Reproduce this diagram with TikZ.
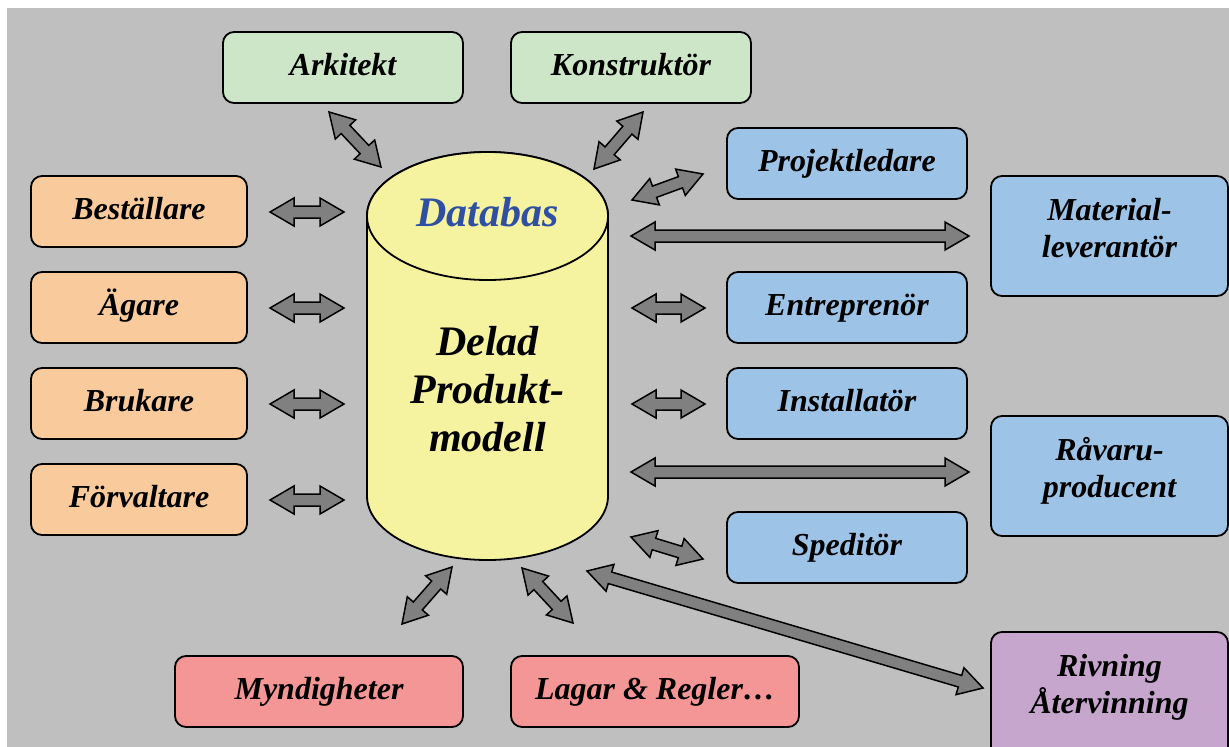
\documentclass[tikz,border=0pt]{standalone}
\usepackage{fontspec}
\setmainfont{Liberation Serif}
\usetikzlibrary{calc}
\definecolor{bggray}{RGB}{191,191,191}
\definecolor{boxgreen}{RGB}{204,230,199}
\definecolor{boxorange}{RGB}{249,203,156}
\definecolor{boxblue}{RGB}{157,195,230}
\definecolor{boxred}{RGB}{244,150,150}
\definecolor{boxpurple}{RGB}{199,166,206}
\definecolor{cylyellow}{RGB}{245,242,160}
\definecolor{arrgray}{RGB}{128,128,128}
\definecolor{dbblue}{RGB}{47,80,162}
\newcommand\twol[2]{\begin{tabular}[t]{@{}c@{}}#1\\#2\end{tabular}}
\newcommand\dblarr[2]{%
  \coordinate (tmpc) at ($(#1)!24pt!(#2)$);
  \coordinate (tmpd) at ($(#2)!24pt!(#1)$);
  \draw[blockarr] (#1) -- ($(tmpc)!14pt!90:(#2)$) -- ($(tmpc)!6pt!90:(#2)$)
    -- ($(tmpd)!6pt!90:(#2)$) -- ($(tmpd)!14pt!90:(#2)$) -- (#2)
    -- ($(tmpd)!14pt!-90:(#2)$) -- ($(tmpd)!6pt!-90:(#2)$)
    -- ($(tmpc)!6pt!-90:(#2)$) -- ($(tmpc)!14pt!-90:(#2)$) -- cycle;}
\begin{document}
\begin{tikzpicture}[x=1pt,y=-1pt,
  box/.style={draw=black, line width=1.8pt, rounded corners=11pt, inner sep=0pt,
    font=\fontsize{32}{37}\selectfont\bfseries\itshape,
    text height=22.4pt, text depth=7.4pt, minimum height=71pt},
  twobox/.style={box, minimum height=120pt, minimum width=237pt, text height=20pt, text depth=52pt},
  blockarr/.style={draw=black, fill=arrgray, line width=1.5pt, line join=miter},
  cyl/.style={draw=black, fill=cylyellow, line width=1.8pt},
  bigtext/.style={font=\fontsize{42}{48}\selectfont\bfseries\itshape, inner sep=0pt}]
\useasboundingbox[fill=white] (0,0) rectangle (1229,747);
\fill[bggray] (7,8) rectangle (1229,747);
\clip (0,0) rectangle (1229,747);

% cylinder
\draw[cyl] (367,216) -- (367,496)
  arc[start angle=180, end angle=360, x radius=120.5pt, y radius=64pt]
  -- (608,216)
  arc[start angle=0, end angle=180, x radius=120.5pt, y radius=64pt] -- cycle;
\draw[cyl] (487.5,216) ellipse[x radius=120.5pt, y radius=64pt];
\node[bigtext, text=dbblue, anchor=base] (db) at (487.5,226) {Databas};
\node[bigtext, anchor=base] (dpm) at (487.5,355) {\begin{tabular}[t]{@{}c@{}}Delad\\Produkt-\\modell\end{tabular}};

% boxes
\node[box, fill=boxgreen, minimum width=240pt] (ark) at (343,67.5) {Arkitekt};
\node[box, fill=boxgreen, minimum width=240pt] (kon) at (631,67.5) {Konstruktör};
\node[box, fill=boxorange, minimum width=216pt] (bes) at (139,211.5) {Beställare};
\node[box, fill=boxorange, minimum width=216pt] (aga) at (139,307.5) {Ägare};
\node[box, fill=boxorange, minimum width=216pt] (bru) at (139,403.5) {Brukare};
\node[box, fill=boxorange, minimum width=216pt] (forv) at (139,499.5) {Förvaltare};
\node[box, fill=boxblue, minimum width=240pt] (proj) at (847,163.5) {Projektledare};
\node[box, fill=boxblue, minimum width=240pt] (ent) at (847,307.5) {Entreprenör};
\node[box, fill=boxblue, minimum width=240pt] (inst) at (847,403.5) {Installatör};
\node[box, fill=boxblue, minimum width=240pt] (sped) at (847,547.5) {Speditör};
\node[twobox, fill=boxblue] (mat) at (1109.5,236) {\twol{Material-}{leverantör}};
\node[twobox, fill=boxblue] (rav) at (1109.5,476) {\twol{Råvaru-}{producent}};
\node[twobox, fill=boxpurple, minimum height=140pt, text depth=72pt] (riv) at (1109.5,702) {\twol{Rivning}{Återvinning}};
\node[box, fill=boxred, minimum width=288pt] (myn) at (319,691.5) {Myndigheter};
\node[box, fill=boxred, minimum width=288pt] (lag) at (655,691.5) {Lagar \& Regler…};

% arrow end points
\coordinate (ark-a) at (329,112);  \coordinate (ark-b) at (381,167);
\coordinate (kon-a) at (643,112);  \coordinate (kon-b) at (594,169);
\coordinate (bes-a) at (270,212);  \coordinate (bes-b) at (344,212);
\coordinate (aga-a) at (270,308);  \coordinate (aga-b) at (344,308);
\coordinate (bru-a) at (270,404);  \coordinate (bru-b) at (344,404);
\coordinate (forv-a) at (270,500); \coordinate (forv-b) at (344,500);
\coordinate (proj-a) at (632,200); \coordinate (proj-b) at (703,174);
\coordinate (mat-a) at (631,236);  \coordinate (mat-b) at (969,236);
\coordinate (ent-a) at (632,308);  \coordinate (ent-b) at (705,308);
\coordinate (inst-a) at (632,404); \coordinate (inst-b) at (705,404);
\coordinate (rav-a) at (631,472);  \coordinate (rav-b) at (969,472);
\coordinate (sped-a) at (631,537); \coordinate (sped-b) at (703,559);
\coordinate (riv-a) at (587,571);  \coordinate (riv-b) at (983,688);
\coordinate (myn-a) at (452,567);  \coordinate (myn-b) at (402,624);
\coordinate (lag-a) at (522,568);  \coordinate (lag-b) at (573,623);

\dblarr{ark-a}{ark-b}
\dblarr{kon-a}{kon-b}
\dblarr{bes-a}{bes-b}
\dblarr{aga-a}{aga-b}
\dblarr{bru-a}{bru-b}
\dblarr{forv-a}{forv-b}
\dblarr{proj-a}{proj-b}
\dblarr{mat-a}{mat-b}
\dblarr{ent-a}{ent-b}
\dblarr{inst-a}{inst-b}
\dblarr{rav-a}{rav-b}
\dblarr{sped-a}{sped-b}
\dblarr{riv-a}{riv-b}
\dblarr{myn-a}{myn-b}
\dblarr{lag-a}{lag-b}
\end{tikzpicture}
\end{document}
